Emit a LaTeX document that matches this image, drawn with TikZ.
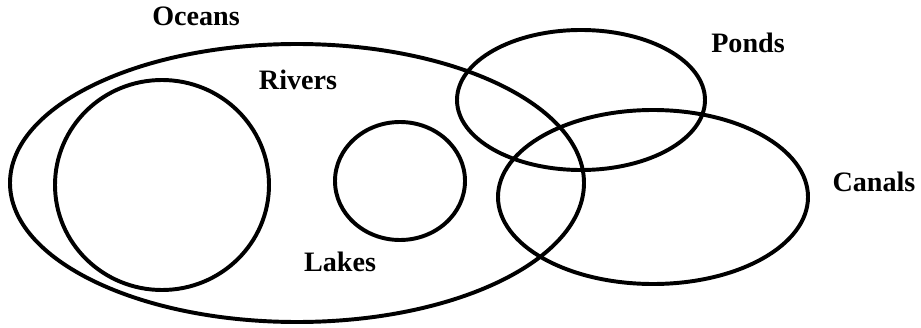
\documentclass[tikz,border=0pt]{standalone}
\usepackage{fontspec}
\setmainfont{Liberation Serif}
\usepackage{tikz}

\begin{document}
\begin{tikzpicture}[x=0.025cm,y=-0.025cm,
  set/.style={line width=2.8pt},
  setname/.style={font=\bfseries\fontsize{20}{22}\selectfont}]
\useasboundingbox (0,0) rectangle (921,328);
\draw[set] (297,183) ellipse [x radius=287, y radius=139];
\draw[set] (162,185) ellipse [x radius=107, y radius=105];
\draw[set] (400,181) ellipse [x radius=65, y radius=59];
\draw[set] (581,100) ellipse [x radius=124, y radius=70];
\draw[set] (653,197) ellipse [x radius=155, y radius=87];
\node[setname] (oceans) at (196,16) {Oceans};
\node[setname] (rivers) at (298,80) {Rivers};
\node[setname] (lakes) at (340,262) {Lakes};
\node[setname] (ponds) at (748,43) {Ponds};
\node[setname] (canals) at (874,182) {Canals};
\end{tikzpicture}
\end{document}
